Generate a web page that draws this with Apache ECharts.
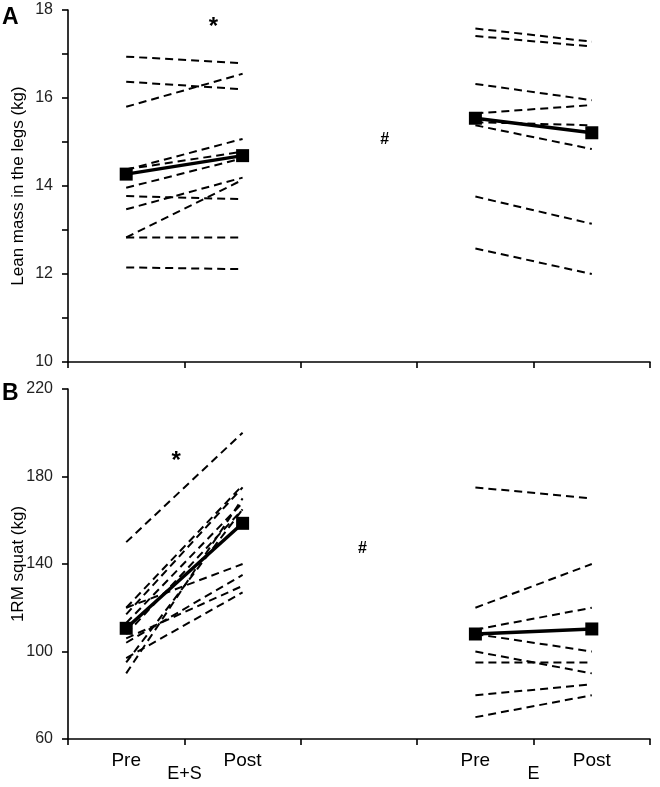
<!DOCTYPE html>
<html>
<head>
<meta charset="utf-8">
<script src="https://cdn.jsdelivr.net/npm/echarts@6/dist/echarts.min.js"></script>
<style>
html,body{margin:0;padding:0;background:#fff;}
#c{width:660px;height:787px;}
</style>
</head>
<body>
<div id="c"></div>
<script>
// Categories
const categories = ['Pre', 'Post', '', 'Pre', 'Post'];
const groupLabels = ['E+S', 'E'];
const yTitles = ['Lean mass in the legs (kg)', '1RM squat (kg)'];

// Panel A: Lean mass in the legs (kg)
const leanES_pre  = [16.94, 16.37, 15.80, 14.37, 14.38, 13.96, 13.77, 13.47, 12.83, 12.83, 12.15];
const leanES_post = [16.79, 16.20, 16.55, 15.07, 14.78, 14.63, 13.70, 14.19, 14.14, 12.83, 12.11];
const leanE_pre   = [17.58, 17.41, 16.32, 15.65, 15.45, 15.38, 13.76, 12.58];
const leanE_post  = [17.28, 17.17, 15.95, 15.84, 15.38, 14.84, 13.14, 12.00];
const leanMeanES  = [14.27, 14.69];
const leanMeanE   = [15.54, 15.21];
const leanTicks   = [10, 12, 14, 16, 18];

// Panel B: 1RM squat (kg)
const squatES_pre  = [150, 120, 117, 113, 108, 120, 106, 104, 97, 95, 90];
const squatES_post = [200, 176, 175, 168, 165, 140, 130, 135, 127, 165, 170];
const squatE_pre   = [175, 120, 110, 108, 100, 95, 80, 70];
const squatE_post  = [170, 140, 120, 100, 90, 95, 85, 80];
const squatMeanES  = [110.6, 158.6];
const squatMeanE   = [108.0, 110.3];
const squatTicks   = [60, 100, 140, 180, 220];

const FONT = '"Liberation Sans", Arial, sans-serif';
const chart = echarts.init(document.getElementById('c'), null, {renderer: 'canvas'});

const dashStyle = {color: '#000', width: 2, type: [8, 5]};
function indiv(pre, post, axisIdx, offset) {
  return pre.map((p, i) => {
    const d = [null, null, null, null, null];
    d[offset] = p; d[offset + 1] = post[i];
    return {
      type: 'line', xAxisIndex: axisIdx, yAxisIndex: axisIdx, data: d,
      symbol: 'none', connectNulls: false, silent: true,
      lineStyle: dashStyle, z: 2, animation: false
    };
  });
}
function meanS(vals, axisIdx, offset) {
  const d = [null, null, null, null, null];
  d[offset] = vals[0]; d[offset + 1] = vals[1];
  return {
    type: 'line', xAxisIndex: axisIdx, yAxisIndex: axisIdx, data: d,
    symbol: 'rect', symbolSize: 13, itemStyle: {color: '#000'},
    lineStyle: {color: '#000', width: 3.5}, z: 5, animation: false
  };
}

const xBase = {
  type: 'category', data: categories, boundaryGap: true,
  axisLine: {lineStyle: {color: '#000', width: 1.6}},
  axisTick: {show: true, interval: 0, length: 6, lineStyle: {color: '#000', width: 1.6}},
  splitLine: {show: false}
};
const yBase = {
  type: 'value',
  axisLine: {show: true, lineStyle: {color: '#000', width: 1.6}},
  axisTick: {show: true, length: 6, lineStyle: {color: '#000', width: 1.6}},
  splitLine: {show: false},
  axisLabel: {color: '#222', fontSize: 16, fontFamily: FONT, margin: 15}
};

const option = {
  backgroundColor: '#fff',
  animation: false,
  grid: [
    {left: 68, right: 10, top: 10, height: 352, containLabel: false, outerBoundsMode: 'none'},
    {left: 68, right: 10, top: 389, height: 350, containLabel: false, outerBoundsMode: 'none'}
  ],
  xAxis: [
    Object.assign({}, xBase, {gridIndex: 0, axisLabel: {show: false}}),
    Object.assign({}, xBase, {gridIndex: 1,
      axisLabel: {show: true, interval: 0, color: '#000', fontSize: 19, fontFamily: FONT, margin: 12}})
  ],
  yAxis: [
    Object.assign({}, yBase, {gridIndex: 0, min: leanTicks[0], max: leanTicks[leanTicks.length - 1], interval: 2,
      minorTick: {show: true, splitNumber: 2, length: 6, lineStyle: {color: '#000', width: 1.6}}}),
    Object.assign({}, yBase, {gridIndex: 1, min: squatTicks[0], max: squatTicks[squatTicks.length - 1], interval: 40})
  ],
  series: [].concat(
    indiv(leanES_pre, leanES_post, 0, 0),
    indiv(leanE_pre, leanE_post, 0, 3),
    [meanS(leanMeanES, 0, 0), meanS(leanMeanE, 0, 3)],
    indiv(squatES_pre, squatES_post, 1, 0),
    indiv(squatE_pre, squatE_post, 1, 3),
    [meanS(squatMeanES, 1, 0), meanS(squatMeanE, 1, 3)]
  )
};
chart.setOption(option);

// Annotations positioned from axis scales
const cx = i => chart.convertToPixel({xAxisIndex: 1}, i);
const yA = v => chart.convertToPixel({yAxisIndex: 0}, v);
const yB = v => chart.convertToPixel({yAxisIndex: 1}, v);
const gridB = chart.getModel().getComponent('grid', 1).coordinateSystem.getRect();
const gridA = chart.getModel().getComponent('grid', 0).coordinateSystem.getRect();
const mid01 = (cx(0) + cx(1)) / 2, mid34 = (cx(3) + cx(4)) / 2;
const txt = (x, y, t, size, bold, align, rot) => ({
  type: 'text', x: x, y: y, rotation: rot || 0,
  style: {text: t, fill: '#000', font: (bold ? 'bold ' : '') + size + 'px ' + FONT,
          textAlign: align || 'center', textVerticalAlign: 'middle'}
});
chart.setOption({
  graphic: [
    txt(18, gridA.y + gridA.height / 2, yTitles[0], 17, false, 'center', Math.PI / 2),
    txt(18, gridB.y + gridB.height / 2, yTitles[1], 17, false, 'center', Math.PI / 2),
    txt(mid01, gridB.y + gridB.height + 35, groupLabels[0], 18, false),
    txt(mid34, gridB.y + gridB.height + 35, groupLabels[1], 18, false),
    txt(cx(0) + 0.75 * (cx(1) - cx(0)), yA(17.6), '*', 24, true),
    txt(cx(2) + 0.22 * (cx(3) - cx(2)), yA(15.06), '#', 16, true),
    txt(cx(0) + 0.43 * (cx(1) - cx(0)), yB(187), '*', 24, true),
    txt(cx(2) + 0.03 * (cx(3) - cx(2)), yB(147), '#', 16, true),
    txt(2, gridA.y + 8, 'A', 23, true, 'left'),
    txt(2, gridB.y + 5, 'B', 23, true, 'left')
  ]
});
</script>
</body>
</html>
